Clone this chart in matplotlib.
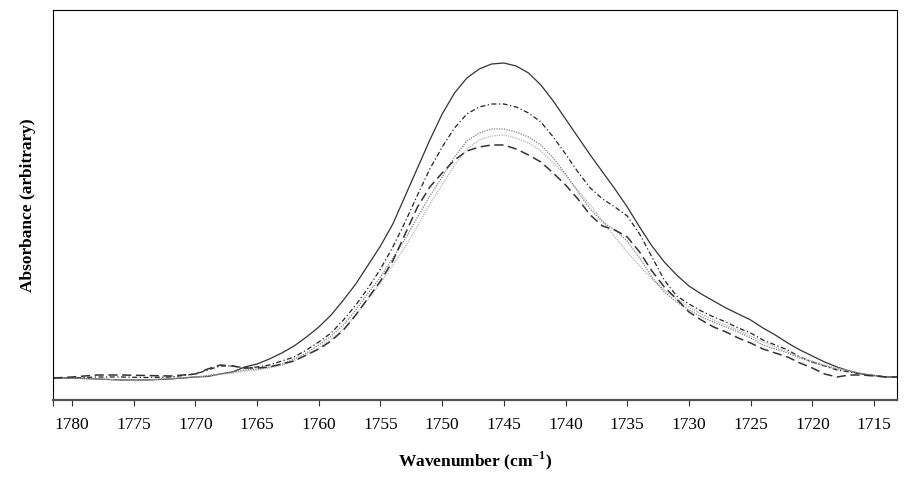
import matplotlib
matplotlib.use("Agg")
import matplotlib.pyplot as plt
import numpy as np

plt.rcParams['font.family'] = ['Liberation Serif', 'DejaVu Serif']
plt.rcParams['mathtext.fontset'] = 'custom'
plt.rcParams['mathtext.rm'] = 'Liberation Serif'
plt.rcParams['mathtext.bf'] = 'Liberation Serif:bold'

wavenumber = [1781.5, 1780, 1778, 1776, 1774, 1772, 1770, 1769, 1768, 1767, 1766,
              1765, 1764, 1763, 1762, 1761, 1760, 1759, 1758, 1757, 1756, 1755,
              1754, 1753, 1752, 1751, 1750, 1749, 1748, 1747, 1746, 1745, 1744,
              1743, 1742, 1741, 1740, 1739, 1738, 1737, 1736, 1735, 1734, 1733,
              1732, 1731, 1730, 1729, 1728, 1727, 1726, 1725, 1724, 1723, 1722,
              1721, 1720, 1719, 1718, 1717, 1716, 1715, 1714, 1713.1]

# values (arbitrary absorbance units, pixel-based)
solid_px = [378, 378, 379, 380, 380, 379, 377, 376.5, 374, 372, 367,
            364, 359, 353, 346, 337, 327, 315, 300, 284, 265, 246,
            224, 196, 168, 140, 114, 93, 78, 69, 64, 63, 66,
            73, 85, 101, 119, 137, 155, 172, 189, 207, 227, 246,
            262, 275, 286, 294, 301, 308, 314, 320, 328, 335, 343,
            350, 356, 362, 367, 371, 374, 375.5, 377, 377]
dashdot_px = [378, 378, 377, 377, 377.5, 377, 374, 370, 366, 366, 368,
              367, 365, 361, 357, 350, 342, 333, 320, 305, 288, 269,
              247, 222, 195, 169, 147, 128, 114, 107, 104, 104, 107,
              113, 122, 137, 154, 172, 188, 199, 207, 216, 234, 257,
              280, 296, 304, 311, 317, 322, 328, 333, 340, 345, 350,
              357, 362, 366, 370, 372, 374, 375.5, 377, 377]
dotted_px = [378, 378, 379, 380, 380, 378.5, 377, 375.5, 374, 372, 370,
             369, 367, 364, 359, 353, 345, 336, 325, 310, 293, 277,
             258, 239, 217, 196, 177, 157, 141, 133, 129, 129, 132,
             137, 145, 158, 174, 192, 209, 222, 230, 241, 258, 277,
             292, 302, 310, 317, 322, 327, 332, 338, 345, 349, 353,
             358, 362, 366, 369, 371, 373.5, 375.5, 377, 377]
lightgray_px = [378, 378, 379, 380, 380, 378.5, 377, 376, 374.5, 373, 371,
                370, 368, 365, 361, 355, 348, 339, 329, 315, 299, 283,
                265, 247, 226, 204, 185, 165, 149, 140, 136, 135, 138,
                143, 151, 163, 175, 190, 205, 221, 237, 252, 266, 279,
                290, 299, 307, 314, 320, 325, 330, 336, 342, 347, 352,
                357, 361, 365, 368, 371, 373.5, 375.5, 377, 377]
dashed_px = [378, 377, 375, 375, 375.5, 376, 374, 369, 365, 366, 368,
             368, 367, 364, 361, 355, 349, 341, 330, 315, 298, 281,
             261, 234, 207, 187, 173, 160, 151, 147, 145, 145, 149,
             155, 162, 173, 185, 199, 215, 226, 230, 237, 252, 271,
             287, 299, 312, 320, 327, 332, 338, 343, 349, 353, 357,
             363, 368, 374, 377, 375, 375, 376, 377, 377]

def to_abs(v):
    return (400 - np.asarray(v, dtype=float)) / 1000.0

xticks = [1780, 1775, 1770, 1765, 1760, 1755, 1750, 1745, 1740, 1735,
          1730, 1725, 1720, 1715]
xlim = (1781.54, 1713.14)

fig = plt.figure(figsize=(9.05, 4.84), dpi=100)
ax = fig.add_axes([53/905, 1 - 400/484, (897 - 53)/905, (400 - 10)/484])

ax.plot(wavenumber, to_abs(solid_px), color='#333333', lw=0.9, ls='-')
ax.plot(wavenumber, to_abs(dashdot_px), color='#222222', lw=0.9,
        dashes=(4, 2, 1, 2))
ax.plot(wavenumber, to_abs(lightgray_px), color='#b5b5b5', lw=0.9,
        dashes=(1, 0.8))
ax.plot(wavenumber, to_abs(dotted_px), color='#808080', lw=0.9,
        dashes=(1, 1))
ax.plot(wavenumber, to_abs(dashed_px), color='#333333', lw=1.1,
        dashes=(6, 3))

ax.set_xlim(*xlim)
ax.set_ylim(0, 0.390)
ax.set_xticks(xticks)
ax.set_xticks([xlim[0]], minor=True)
ax.set_xticklabels([str(t) for t in xticks], fontsize=12.5)
ax.set_yticks([])
ax.tick_params(axis='x', which='both', direction='out', length=4, width=0.8,
               pad=8, color='#333333')

for s in ['top', 'right', 'left']:
    ax.spines[s].set_linewidth(0.8)
    ax.spines[s].set_color('black')
ax.spines['bottom'].set_linewidth(1.6)
ax.spines['bottom'].set_color('#555555')

ax.set_xlabel('Wavenumber (cm$^{\\mathbf{-1}}$)', fontsize=12.5,
              fontweight='bold', labelpad=12)
ax.set_ylabel('Absorbance (arbitrary)', fontsize=12.5, fontweight='bold',
              labelpad=12)

fig.savefig('out.png', dpi=100)
